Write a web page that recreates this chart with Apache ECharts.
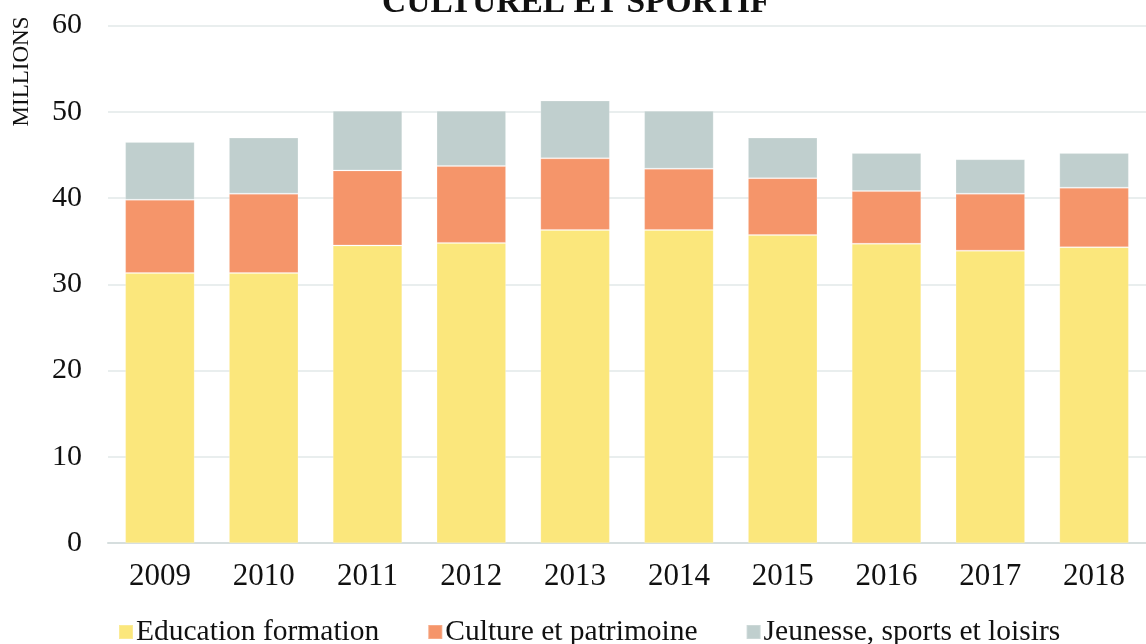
<!DOCTYPE html>
<html>
<head>
<meta charset="utf-8">
<script src="https://cdn.jsdelivr.net/npm/echarts@6/dist/echarts.min.js"></script>
<style>
  html, body { margin: 0; padding: 0; background: #fff; }
  #chart { width: 1146px; height: 644px; }
</style>
</head>
<body>
<div id="chart"></div>
<script>
// Years on the category axis
const years = ['2009', '2010', '2011', '2012', '2013', '2014', '2015', '2016', '2017', '2018'];

// Stacked amounts, in millions
const education = [31.3, 31.3, 34.5, 34.8, 36.3, 36.3, 35.7, 34.7, 33.9, 34.3];
const culture   = [8.5, 9.2, 8.7, 8.9, 8.3, 7.1, 6.6, 6.1, 6.6, 6.9];
const jeunesse  = [6.7, 6.5, 6.9, 6.4, 6.7, 6.7, 4.7, 4.4, 4.0, 4.0];

// Series names
const seriesNames = ['Education formation', 'Culture et patrimoine', 'Jeunesse, sports et loisirs'];

const FONT = '"Liberation Serif", "Times New Roman", serif';
const colors = ['#FBE77C', '#F5956A', '#C0CFCE'];

const chart = echarts.init(document.getElementById('chart'), null, { renderer: 'canvas' });

function barSeries(name, data, color) {
  return {
    name: name,
    type: 'bar',
    stack: 'total',
    data: data,
    barWidth: '67%',
    itemStyle: { color: color, borderColor: 'rgba(255,255,255,0.2)', borderWidth: 1 },
    emphasis: { disabled: true }
  };
}

chart.setOption({
  animation: false,
  backgroundColor: '#ffffff',
  color: colors,
  textStyle: { fontFamily: FONT },
  grid: { left: 108, right: -13, top: 25.4, bottom: 100.8, containLabel: false },
  graphic: [
    {
      type: 'text',
      left: 382,
      top: -14,
      style: {
        text: 'CULTUREL ET SPORTIF',
        font: 'bold 33.5px ' + FONT,
        fill: '#111'
      }
    },
    {
      type: 'text',
      x: 22,
      y: 71.5,
      rotation: Math.PI / 2,
      style: {
        text: 'MILLIONS',
        font: '23px ' + FONT,
        fill: '#111',
        align: 'center',
        verticalAlign: 'middle'
      }
    }
  ],
  legend: {
    left: 113,
    top: 612,
    itemWidth: 14,
    itemHeight: 14,
    itemGap: 48,
    icon: 'rect',
    textStyle: { fontFamily: FONT, fontSize: 29.5, color: '#111', padding: [0, 0, 0, -2] },
    data: seriesNames
  },
  xAxis: {
    type: 'category',
    data: years,
    axisTick: { show: false },
    axisLine: { lineStyle: { color: '#d6dede', width: 2 } },
    axisLabel: { fontFamily: FONT, fontSize: 31, color: '#111', margin: 18 }
  },
  yAxis: {
    type: 'value',
    min: 0,
    max: 60,
    interval: 10,
    axisLine: { show: false },
    axisTick: { show: false },
    splitLine: { lineStyle: { color: '#e9eeee', width: 2 } },
    axisLabel: { fontFamily: FONT, fontSize: 30, color: '#111', margin: 26 }
  },
  series: [
    barSeries(seriesNames[0], education, colors[0]),
    barSeries(seriesNames[1], culture, colors[1]),
    barSeries(seriesNames[2], jeunesse, colors[2])
  ]
});
</script>
</body>
</html>
